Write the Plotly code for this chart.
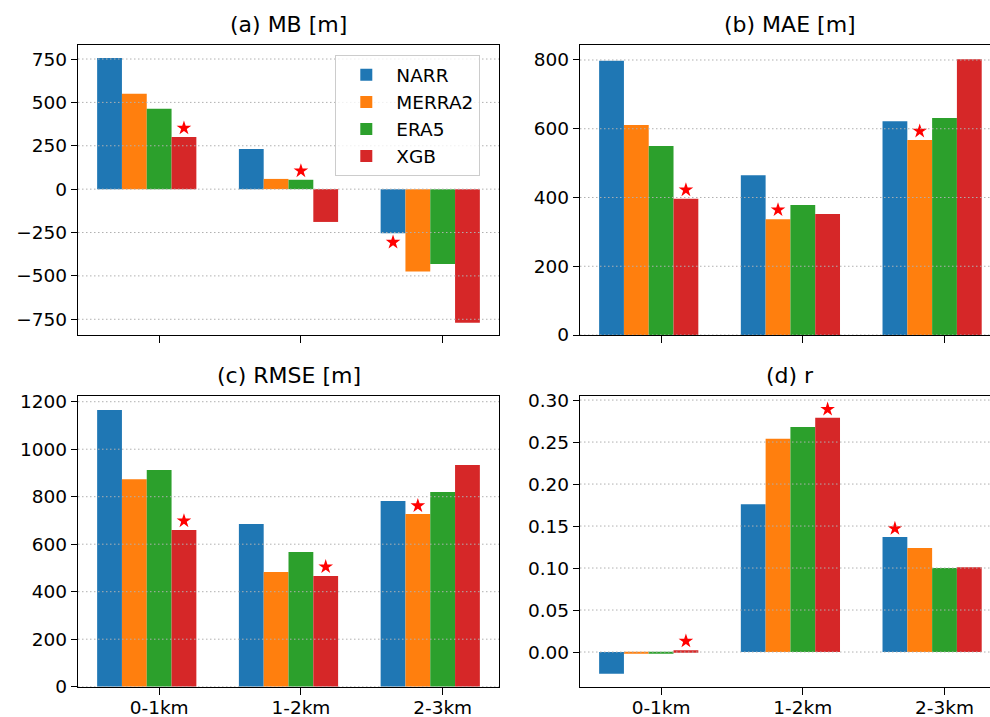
import plotly.graph_objects as go

# Height-bin categories and models
categories = ["0-1km", "1-2km", "2-3km"]
models = ["NARR", "MERRA2", "ERA5", "XGB"]
colors = ["#1f77b4", "#ff7f0e", "#2ca02c", "#d62728"]

# Metric values, one row per model (NARR, MERRA2, ERA5, XGB)
mb_values = [[756, 232, -254], [550, 59, -475], [463, 54, -431], [301, -189, -770]]
mae_values = [[798, 465, 622], [611, 337, 567], [550, 378, 631], [396, 352, 802]]
rmse_values = [[1165, 685, 782], [874, 483, 727], [912, 567, 820], [660, 466, 933]]
r_values = [[-0.026, 0.176, 0.137], [-0.002, 0.254, 0.124], [-0.001, 0.268, 0.100], [0.002, 0.279, 0.101]]

# Best model per height bin (index into models) and the star heights
mb_best = [3, 2, 0]
mb_star = [352, 105, -306]
mae_best = [3, 1, 1]
mae_star = [422, 364, 593]
rmse_best = [3, 3, 1]
rmse_star = [698, 505, 762]
r_best = [3, 3, 0]
r_star = [0.013, 0.289, 0.147]

# Axis ticks
mb_ticks = [-750, -500, -250, 0, 250, 500, 750]
mb_ticktext = ["\u2212750", "\u2212500", "\u2212250", "0", "250", "500", "750"]
mae_ticks = [0, 200, 400, 600, 800]
rmse_ticks = [0, 200, 400, 600, 800, 1000, 1200]
r_ticks = [0.0, 0.05, 0.10, 0.15, 0.20, 0.25, 0.30]
r_ticktext = ["0.00", "0.05", "0.10", "0.15", "0.20", "0.25", "0.30"]

titles = ["(a) MB [m]", "(b) MAE [m]", "(c) RMSE [m]", "(d) r"]

W, H = 990, 717
FONT = "DejaVu Sans"
bar_w = 0.175
x_idx = list(range(len(categories)))

# Left panels show the full frame; right panels run past the page edge (no right spine)
panels = [
    dict(values=mb_values, best=mb_best, star=mb_star, ticks=mb_ticks, ticktext=mb_ticktext,
         yrange=[-840.6, 830.8], px=(78, 499), py=(45, 335), xr=[-0.5725, 2.3975], right=True, labels=False,
         title_x=(78 + 499) / 2),
    dict(values=mae_values, best=mae_best, star=mae_star, ticks=mae_ticks, ticktext=[str(t) for t in mae_ticks],
         yrange=[0, 843.6], px=(580, 990), py=(45, 335), xr=[-0.5725, 2.3210], right=False, labels=False,
         title_x=(580 + 1000.6) / 2),
    dict(values=rmse_values, best=rmse_best, star=rmse_star, ticks=rmse_ticks, ticktext=[str(t) for t in rmse_ticks],
         yrange=[0, 1225.3], px=(78, 499), py=(395.7, 686.7), xr=[-0.5725, 2.3975], right=True, labels=True,
         title_x=(78 + 499) / 2),
    dict(values=r_values, best=r_best, star=r_star, ticks=r_ticks, ticktext=r_ticktext,
         yrange=[-0.0413, 0.3052], px=(580, 990), py=(395.7, 686.7), xr=[-0.5725, 2.3210], right=False, labels=True,
         title_x=(580 + 1000.6) / 2),
]

fig = go.Figure()
shapes = []
annotations = []
layout_axes = {}

for p_i, p in enumerate(panels):
    n = "" if p_i == 0 else str(p_i + 1)
    xa, ya = "x" + n, "y" + n
    for k, model in enumerate(models):
        fig.add_trace(go.Bar(
            x=x_idx, y=p["values"][k], width=bar_w, offset=(k - 2) * bar_w - bar_w / 2,
            marker=dict(color=colors[k], line=dict(width=0)),
            name=model, legendgroup=model, showlegend=(p_i == 0),
            xaxis=xa, yaxis=ya,
        ))
    fig.add_trace(go.Scatter(
        x=[i + (b - 2) * bar_w for i, b in zip(x_idx, p["best"])], y=p["star"],
        mode="markers", marker=dict(symbol="star", size=11, color="red", line=dict(width=0)),
        showlegend=False, xaxis=xa, yaxis=ya, hoverinfo="skip",
    ))
    # dotted horizontal grid, drawn over the bars
    for t in p["ticks"]:
        shapes.append(dict(type="line", xref=xa + " domain", yref=ya, x0=0, x1=1, y0=t, y1=t,
                           line=dict(color="#b0b0b0", width=1, dash="1.5px,2.5px"), layer="above"))
    xdom = [p["px"][0] / W, p["px"][1] / W]
    ydom = [1 - p["py"][1] / H, 1 - p["py"][0] / H]
    layout_axes["xaxis" + n] = dict(
        domain=xdom, range=p["xr"], anchor=ya, tickvals=x_idx, ticktext=categories,
        showticklabels=p["labels"], ticks="outside", ticklen=7, tickwidth=1.3, tickcolor="black",
        ticklabelstandoff=-3,
        showline=True, linecolor="black", linewidth=1.3, mirror=True, showgrid=False, zeroline=False,
        tickfont=dict(size=18.5, color="black", family=FONT), automargin=False, fixedrange=True,
    )
    layout_axes["yaxis" + n] = dict(
        domain=ydom, range=p["yrange"], anchor=xa, tickvals=p["ticks"], ticktext=p["ticktext"],
        ticks="outside", ticklen=6, tickwidth=1.3, tickcolor="black",
        showline=True, linecolor="black", linewidth=1.3, mirror=p["right"], showgrid=False, zeroline=False,
        tickfont=dict(size=18.5, color="black", family=FONT), automargin=False, fixedrange=True,
    )
    annotations.append(dict(
        text=titles[p_i], xref="paper", yref="paper", x=p["title_x"] / W,
        y=ydom[1], xanchor="center", yanchor="bottom", yshift=6, showarrow=False,
        font=dict(size=22, color="black", family=FONT),
    ))

fig.update_layout(
    width=W, height=H, margin=dict(l=0, r=0, t=0, b=0),
    paper_bgcolor="white", plot_bgcolor="white", barmode="overlay",
    font=dict(family=FONT, color="black"),
    shapes=shapes, annotations=annotations, showlegend=True,
    legend=dict(x=335 / W, y=1 - 55 / H, xanchor="left", yanchor="top",
                bgcolor="rgba(255,255,255,0.8)", bordercolor="#cccccc", borderwidth=1.3,
                font=dict(size=18.5, color="black", family=FONT),
                traceorder="normal", itemwidth=50),
    **layout_axes,
)

fig.write_html("out.html")
